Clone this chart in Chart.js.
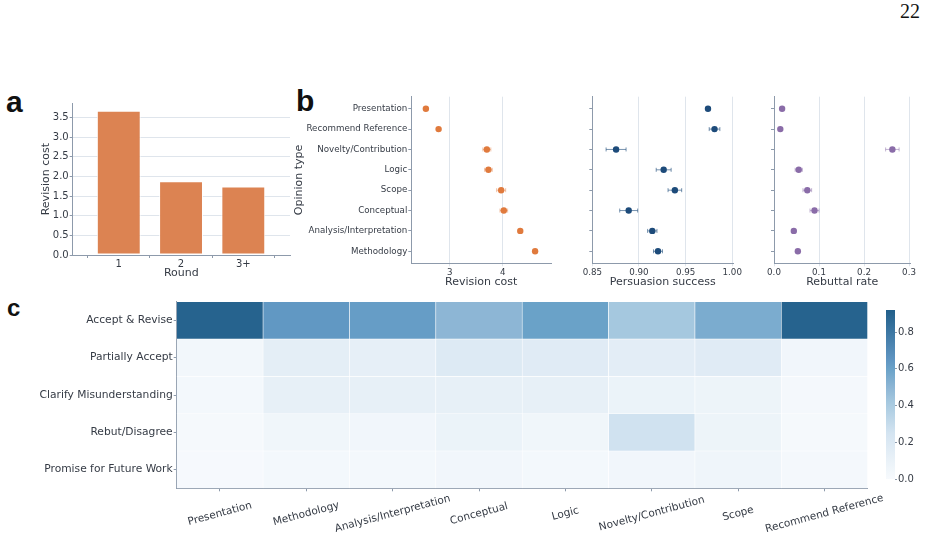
<!DOCTYPE html>
<html>
<head>
<meta charset="utf-8">
<script src="https://cdn.jsdelivr.net/npm/chart.js@4.4.1/dist/chart.umd.min.js"></script>
<style>
body{margin:0;background:#fff;width:925px;height:539px;overflow:hidden;position:relative;font-family:"DejaVu Sans",sans-serif}
canvas{position:absolute}
.lbl{position:absolute;font-family:"Liberation Sans",sans-serif;font-weight:bold;color:#111;line-height:1;white-space:nowrap}
#pageNo{position:absolute;left:870px;top:1px;width:50px;text-align:right;font:20px/1 "Liberation Serif",serif;color:#111}
</style>
</head>
<body>
<div id="pageNo">22</div>
<div class="lbl" style="left:6px;top:87px;font-size:30px">a</div>
<div class="lbl" style="left:296px;top:86px;font-size:30px">b</div>
<div class="lbl" style="left:7px;top:296px;font-size:24px">c</div>
<script>
// panel a
var rounds = ['1', '2', '3+'];
var roundCost = [3.67, 1.875, 1.74];
var roundTicks = [0, 1, 2];
var roundCostTicks = [0, 0.5, 1, 1.5, 2, 2.5, 3, 3.5];

// panel b
var opinionTypes = ['Presentation', 'Recommend Reference', 'Novelty/Contribution', 'Logic', 'Scope', 'Conceptual', 'Analysis/Interpretation', 'Methodology'];
var revCost = [2.55, 2.79, 3.70, 3.73, 3.97, 4.02, 4.33, 4.61];
var revCostErr = [0.02, 0.02, 0.075, 0.072, 0.085, 0.072, 0.02, 0.02];
var persuasion = [0.974, 0.981, 0.8755, 0.9265, 0.9385, 0.889, 0.9143, 0.9204];
var persuasionErr = [0.001, 0.0057, 0.0107, 0.008, 0.0073, 0.0096, 0.005, 0.0048];
var rebuttal = [0.018, 0.014, 0.263, 0.055, 0.074, 0.090, 0.044, 0.053];
var rebuttalErr = [0.002, 0.002, 0.015, 0.008, 0.0096, 0.010, 0.002, 0.002];
var revCostTicks = [3, 4];
var persuasionTicks = [0.85, 0.90, 0.95, 1.00];
var rebuttalTicks = [0, 0.1, 0.2, 0.3];

// panel c
var heatCols = ['Presentation', 'Methodology', 'Analysis/Interpretation', 'Conceptual', 'Logic', 'Novelty/Contribution', 'Scope', 'Recommend Reference'];
var heatRows = ['Accept & Revise', 'Partially Accept', 'Clarify Misunderstanding', 'Rebut/Disagree', 'Promise for Future Work'];
var acceptRevise    = [0.90, 0.64, 0.62, 0.50, 0.60, 0.42, 0.55, 0.90];
var partiallyAccept = [0.04, 0.14, 0.13, 0.19, 0.17, 0.15, 0.17, 0.05];
var clarify         = [0.03, 0.12, 0.12, 0.12, 0.12, 0.09, 0.08, 0.02];
var rebut           = [0.018, 0.053, 0.044, 0.090, 0.055, 0.263, 0.074, 0.014];
var promise         = [0.01, 0.03, 0.03, 0.05, 0.03, 0.05, 0.06, 0.02];
var heatValues = [acceptRevise, partiallyAccept, clarify, rebut, promise];
var colorbarTicks = [0, 0.2, 0.4, 0.6, 0.8];
var colorMax = 0.92;

var textColor = '#353b45';
var axisColor = '#8d9aab';
var gridColor = '#dfe5ec';

Chart.defaults.font.family = '"DejaVu Sans", sans-serif';
Chart.defaults.font.size = 10;
Chart.defaults.color = textColor;
Chart.defaults.animation = false;
Chart.defaults.responsive = false;
Chart.defaults.devicePixelRatio = 1;
Chart.defaults.plugins.legend.display = false;
Chart.defaults.plugins.tooltip.enabled = false;

var cmapStops = [
  [0.00, [247, 250, 253]],
  [0.10, [234, 242, 248]],
  [0.25, [212, 228, 241]],
  [0.42, [165, 200, 223]],
  [0.50, [141, 182, 213]],
  [0.60, [106, 162, 200]],
  [0.65, [95, 149, 194]],
  [0.92, [33, 95, 138]]
];
function cmap(v) {
  if (v <= cmapStops[0][0]) return 'rgb(' + cmapStops[0][1].join(',') + ')';
  for (var i = 1; i < cmapStops.length; i++) {
    if (v <= cmapStops[i][0]) {
      var a = cmapStops[i - 1], b = cmapStops[i];
      var t = (v - a[0]) / (b[0] - a[0]);
      var c = a[1].map(function (x, k) { return Math.round(x + (b[1][k] - x) * t); });
      return 'rgb(' + c.join(',') + ')';
    }
  }
  return 'rgb(' + cmapStops[cmapStops.length - 1][1].join(',') + ')';
}

function makeCanvas(id, left, top, w, h) {
  var c = document.createElement('canvas');
  c.id = id; c.width = w; c.height = h;
  c.style.left = left + 'px'; c.style.top = top + 'px';
  c.style.width = w + 'px'; c.style.height = h + 'px';
  document.body.appendChild(c);
  return c;
}
function fixedTicks(list) {
  return function (s) { s.ticks = list.map(function (v) { return { value: v }; }); };
}

var errorBars = {
  id: 'errorBars',
  beforeDatasetsDraw: function (chart) {
    var ctx = chart.ctx, xs = chart.scales.x, ys = chart.scales.y;
    chart.data.datasets.forEach(function (ds) {
      if (!ds.errors) return;
      ctx.save();
      ctx.strokeStyle = ds.errorColor;
      ctx.lineWidth = 1;
      ds.data.forEach(function (p, i) {
        var x0 = xs.getPixelForValue(p.x - ds.errors[i]);
        var x1 = xs.getPixelForValue(p.x + ds.errors[i]);
        var y = ys.getPixelForValue(p.y);
        ctx.beginPath();
        ctx.moveTo(x0, y); ctx.lineTo(x1, y);
        ctx.moveTo(x0, y - 2); ctx.lineTo(x0, y + 2);
        ctx.moveTo(x1, y - 2); ctx.lineTo(x1, y + 2);
        ctx.stroke();
      });
      ctx.restore();
    });
  }
};

// ---- a: revision cost per round
new Chart(makeCanvas('roundChart', 0, 80, 305, 210), {
  type: 'bar',
  data: {
    datasets: [{
      data: roundCost.map(function (v, i) { return { x: roundTicks[i], y: v }; }),
      backgroundColor: '#dc8352',
      borderColor: 'rgba(255,255,255,0.85)',
      borderWidth: 1,
      borderSkipped: false,
      barPercentage: 0.705,
      categoryPercentage: 1
    }]
  },
  options: {
    layout: { padding: { left: 0, right: 15, top: 23.3, bottom: 0 } },
    scales: {
      x: {
        type: 'linear', min: -0.74, max: 2.75, offset: false,
        afterBuildTicks: fixedTicks(roundTicks),
        ticks: { callback: function (v, i) { return rounds[i]; }, padding: 0, maxRotation: 0 },
        grid: { drawOnChartArea: false, tickLength: 3, tickColor: axisColor },
        border: { color: axisColor },
        title: { display: true, text: 'Round', font: { size: 11 }, padding: { top: 0, bottom: 10 } },
        afterFit: function (s) { s.height = 35; }
      },
      y: {
        min: 0, max: 3.86,
        afterBuildTicks: fixedTicks(roundCostTicks),
        ticks: { callback: function (v) { return v.toFixed(1); }, padding: 1 },
        grid: { color: gridColor, tickLength: 3, tickColor: axisColor },
        border: { color: axisColor },
        title: { display: true, text: 'Revision cost', font: { size: 11 }, padding: { top: 40, bottom: 0 } },
        afterFit: function (s) { s.width = 72.7; }
      }
    }
  }
});

// ---- b: three dot panels
function dotPanel(id, left, width, axisWidth, padRight, values, errs, color, errColor, xmin, xmax, xTicks, digits, xTitle, showLabels) {
  new Chart(makeCanvas(id, left, 80, width, 215), {
    type: 'scatter',
    data: {
      datasets: [{
        data: values.map(function (v, i) { return { x: v, y: i }; }),
        errors: errs,
        errorColor: errColor,
        backgroundColor: color,
        borderWidth: 0,
        pointRadius: 3.2
      }]
    },
    options: {
      layout: { padding: { left: 0, right: padRight, top: 16.7, bottom: 0 } },
      scales: {
        x: {
          type: 'linear', min: xmin, max: xmax,
          afterBuildTicks: fixedTicks(xTicks),
          ticks: { callback: function (v) { return v.toFixed(digits); }, padding: 1, maxRotation: 0, font: { size: 8.7 } },
          grid: { color: gridColor, tickLength: 3, tickColor: gridColor },
          border: { color: axisColor },
          title: { display: true, text: xTitle, font: { size: 11 }, padding: { top: 0, bottom: 6.7 } },
          afterFit: function (s) { s.height = 31.7; }
        },
        y: {
          type: 'linear', min: -0.59, max: 7.59, reverse: true,
          afterBuildTicks: fixedTicks(opinionTypes.map(function (t, i) { return i; })),
          ticks: { callback: function (v, i) { return showLabels ? opinionTypes[i] : ''; }, padding: 1, font: { size: 8.7 } },
          grid: { drawOnChartArea: false, tickLength: 3, tickColor: axisColor },
          border: { color: axisColor },
          title: { display: showLabels, text: 'Opinion type', font: { size: 11 }, padding: { top: 7.4, bottom: 0 } },
          afterFit: function (s) { s.width = axisWidth; }
        }
      }
    },
    plugins: [errorBars]
  });
}
dotPanel('costChart', 285, 280, 126.3, 14, revCost, revCostErr, '#e07a3d', 'rgba(224,122,61,0.45)', 2.275, 4.91, revCostTicks, 0, 'Revision cost', true);
dotPanel('persuasionChart', 565, 183, 27.3, 15, persuasion, persuasionErr, '#1d4b7a', 'rgba(29,75,122,0.6)', 0.85, 1.0008, persuasionTicks, 2, 'Persuasion success', false);
dotPanel('rebuttalChart', 748, 177, 26, 14.5, rebuttal, rebuttalErr, '#8a6ca8', 'rgba(138,108,168,0.5)', 0, 0.3033, rebuttalTicks, 1, 'Rebuttal rate', false);

// ---- c: response heatmap
var heatLabels = {
  id: 'heatLabels',
  afterDraw: function (chart) {
    var xs = chart.scales.x, ctx = chart.ctx;
    ctx.save();
    ctx.font = '10.5px "DejaVu Sans", sans-serif';
    ctx.fillStyle = textColor;
    ctx.textAlign = 'center';
    ctx.textBaseline = 'middle';
    heatCols.forEach(function (name, i) {
      ctx.save();
      ctx.translate(xs.getPixelForTick(i), xs.top + 25.5);
      ctx.rotate(-15 * Math.PI / 180);
      ctx.fillText(name, 0, 0);
      ctx.restore();
    });
    ctx.restore();
  }
};
new Chart(makeCanvas('heatChart', 0, 290, 905, 249), {
  type: 'bar',
  data: {
    labels: heatCols,
    datasets: heatRows.map(function (name, r) {
      return {
        label: name,
        data: heatValues[r].map(function () { return [r, r + 1]; }),
        backgroundColor: heatValues[r].map(cmap),
        borderColor: '#ffffff',
        borderWidth: 0.6,
        borderSkipped: false,
        grouped: false,
        barPercentage: 1,
        categoryPercentage: 1
      };
    })
  },
  options: {
    layout: { padding: { left: 0, right: 37.3, top: 11.7, bottom: 0 } },
    scales: {
      x: {
        type: 'category', offset: true,
        ticks: { callback: function () { return ''; }, maxRotation: 0, autoSkip: false },
        grid: { drawOnChartArea: false, offset: false, tickLength: 3, tickColor: axisColor },
        border: { color: axisColor },
        afterFit: function (s) { s.height = 50.7; }
      },
      y: {
        type: 'linear', min: 0, max: 5, reverse: true,
        afterBuildTicks: fixedTicks(heatRows.map(function (t, i) { return i + 0.5; })),
        ticks: { callback: function (v, i) { return heatRows[i]; }, padding: 1, font: { size: 10.7 } },
        grid: { drawOnChartArea: false, tickLength: 3, tickColor: axisColor },
        border: { color: axisColor },
        afterFit: function (s) { s.width = 176.7; }
      }
    }
  },
  plugins: [heatLabels]
});

// colorbar
new Chart(makeCanvas('colorbar', 870, 300, 50, 188), {
  type: 'bar',
  data: {
    labels: [''],
    datasets: [{
      data: [[0, colorMax]],
      backgroundColor: function (c) {
        var area = c.chart.chartArea;
        if (!area) return '#ffffff';
        var g = c.chart.ctx.createLinearGradient(0, area.bottom, 0, area.top);
        cmapStops.forEach(function (s) { g.addColorStop(s[0] / colorMax, cmap(s[0])); });
        return g;
      },
      borderWidth: 0,
      barPercentage: 1,
      categoryPercentage: 1
    }]
  },
  options: {
    layout: { padding: { left: 16, right: 0, top: 10, bottom: 8.7 } },
    scales: {
      x: { display: false },
      y: {
        position: 'right', min: 0, max: colorMax,
        afterBuildTicks: fixedTicks(colorbarTicks),
        ticks: { callback: function (v) { return v.toFixed(1); }, padding: 1 },
        grid: { drawOnChartArea: false, tickLength: 2, tickColor: axisColor },
        border: { display: false },
        afterFit: function (s) { s.width = 25; }
      }
    }
  }
});
</script>
</body>
</html>
